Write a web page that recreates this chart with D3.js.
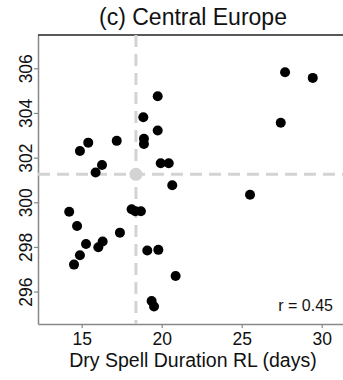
<!DOCTYPE html>
<html>
<head>
<meta charset="utf-8">
<script src="https://cdn.jsdelivr.net/npm/d3@7"></script>
<style>
  body { margin: 0; background: #fff; }
  svg text { font-family: "Liberation Sans", Arial, Helvetica, sans-serif; fill: #111; }
</style>
</head>
<body>
<svg id="scatter" width="343" height="380"></svg>
<script>
// dry spell duration return level (days) vs. temperature, one point per model
var dryDays = [27.71, 29.44, 19.75, 18.85, 27.44, 19.75, 15.41, 14.89, 17.19, 18.89, 18.89,
               19.94, 20.44, 16.27, 15.87, 20.66, 25.52,
               14.22, 18.12, 18.35, 18.70, 14.71, 17.39, 15.27, 16.04, 16.31, 14.89, 14.52,
               19.10, 19.79, 20.87, 19.37, 19.52];
var tempK = [305.82, 305.57, 304.75, 303.81, 303.56, 303.21, 302.67, 302.30, 302.75, 302.84, 302.61,
             301.75, 301.75, 301.67, 301.33, 300.76, 300.34,
             299.58, 299.69, 299.60, 299.60, 298.94, 298.64, 298.13, 297.99, 298.24, 297.63, 297.21,
             297.84, 297.87, 296.70, 295.58, 295.33];
var meanPoint = [18.39, 301.25];
var xTicks = [15, 20, 25, 30];
var yTicks = [296, 298, 300, 302, 304, 306];
var title = '(c) Central Europe';
var xLabel = 'Dry Spell Duration RL (days)';
var corrLabel = 'r = 0.45';

var svg = d3.select('#scatter'),
    plotLeft = 38, plotTop = 35, plotRight = 343, plotBottom = 324;

var x = d3.scaleLinear().domain([12.27, 31.33]).range([plotLeft, plotRight]);
var y = d3.scaleLinear().domain([294.55, 307.49]).range([plotBottom, plotTop]);

// axes (R style: gray lines, short outward ticks)
var xAxis = svg.append('g')
    .attr('transform', 'translate(0,' + plotBottom + ')')
    .call(d3.axisBottom(x).tickValues(xTicks).tickSize(4).tickSizeOuter(0));
var yAxis = svg.append('g')
    .attr('transform', 'translate(' + plotLeft + ',0)')
    .call(d3.axisLeft(y).tickValues(yTicks).tickSize(4).tickSizeOuter(0));

[xAxis, yAxis].forEach(function (a) {
    a.select('.domain').attr('stroke', '#888').attr('stroke-width', 1.5);
    a.selectAll('.tick line').attr('stroke', '#888').attr('stroke-width', 1.2);
    a.selectAll('text').attr('font-size', '17.5px').attr('fill', '#111')
        .attr('font-family', '"Liberation Sans", Arial, sans-serif');
});
xAxis.selectAll('text').attr('dy', null).attr('y', 21);

// vertical tick labels on the y axis
yAxis.selectAll('text')
    .attr('x', null).attr('dy', null)
    .attr('text-anchor', 'middle')
    .attr('transform', 'translate(-6,0) rotate(-90)')
    .attr('y', 0);

// top frame line
svg.append('line')
    .attr('x1', plotLeft).attr('x2', plotRight)
    .attr('y1', plotTop).attr('y2', plotTop)
    .attr('stroke', '#222').attr('stroke-width', 1.5);

// dashed mean lines
svg.append('line')
    .attr('x1', x(meanPoint[0])).attr('x2', x(meanPoint[0]))
    .attr('y1', plotTop).attr('y2', plotBottom)
    .attr('stroke', '#d3d3d3').attr('stroke-width', 3)
    .attr('stroke-dasharray', '12,7');
svg.append('line')
    .attr('x1', plotLeft).attr('x2', plotRight)
    .attr('y1', y(meanPoint[1])).attr('y2', y(meanPoint[1]))
    .attr('stroke', '#d3d3d3').attr('stroke-width', 3)
    .attr('stroke-dasharray', '12,7');

svg.append('circle')
    .attr('cx', x(meanPoint[0])).attr('cy', y(meanPoint[1]))
    .attr('r', 6.5).attr('fill', '#d3d3d3');

// model points
svg.append('g').selectAll('circle')
    .data(dryDays.map(function (d, i) { return [d, tempK[i]]; }))
    .enter()
    .append('circle')
    .attr('cx', d => x(d[0]))
    .attr('cy', d => y(d[1]))
    .attr('r', 5)
    .attr('fill', '#000');

svg.append('text')
    .attr('x', 193).attr('y', 25)
    .attr('text-anchor', 'middle')
    .attr('font-size', '23px')
    .text(title);

svg.append('text')
    .attr('x', 193).attr('y', 367)
    .attr('text-anchor', 'middle')
    .attr('font-size', '19.5px')
    .text(xLabel);

svg.append('text')
    .attr('x', 333).attr('y', 311)
    .attr('text-anchor', 'end')
    .attr('font-size', '16px')
    .text(corrLabel);
</script>
</body>
</html>
